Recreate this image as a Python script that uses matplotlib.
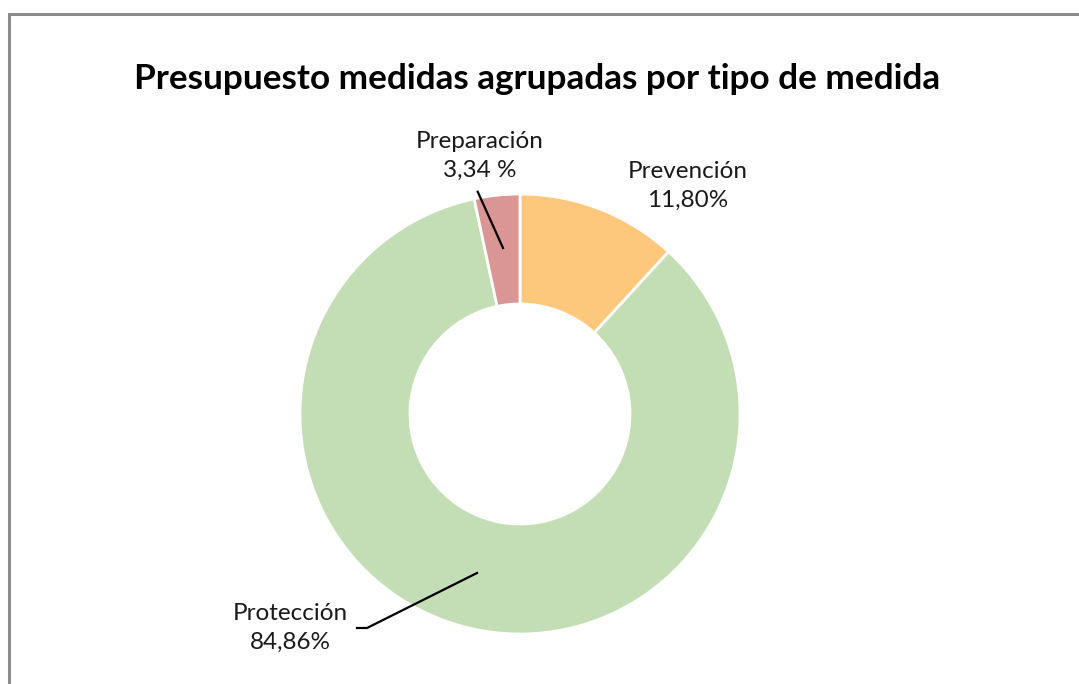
import matplotlib
matplotlib.use("Agg")
import matplotlib.pyplot as plt
from matplotlib.patches import Rectangle

# Budget share by type of measure
categories = ["Prevención", "Protección", "Preparación"]
shares = [11.80, 84.86, 3.34]
share_labels = ["11,80%", "84,86%", "3,34 %"]
colors = ["#FDC77C", "#C3DDB4", "#D99694"]

W, H = 1079, 684
fig = plt.figure(figsize=(W / 100, H / 100), dpi=100)
ax = fig.add_axes([0, 0, 1, 1])
ax.set_xlim(0, W)
ax.set_ylim(0, H)
ax.set_aspect("equal")
ax.axis("off")

# outer frame
ax.add_patch(Rectangle((9, -10), W + 20, H - 14 + 10, fill=False,
                       edgecolor="#8c8c8c", linewidth=2.2))

cx, cy, R = 520, H - 414, 220
ax.pie(shares, colors=colors, startangle=90, counterclock=False,
       radius=R, center=(cx, cy), frame=True,
       wedgeprops=dict(width=R * 0.5, edgecolor="white", linewidth=2))
ax.set_xlim(0, W)
ax.set_ylim(0, H)
ax.axis("off")

font = "Lato"
fig.text(537 / W, 1 - 79 / H, "Presupuesto medidas agrupadas por tipo de medida",
         ha="center", va="center", fontsize=25.3, fontweight="bold",
         family=font, color="black")

lab_style = dict(ha="center", va="center", fontsize=17.5, family=font,
                 color="#1a1a1a", linespacing=1.5)
ax.text(688, H - 186, f"{categories[0]}\n{share_labels[0]}", **lab_style)
ax.text(290, H - 628, f"{categories[1]}\n{share_labels[1]}", **lab_style)
ax.text(480, H - 156, f"{categories[2]}\n{share_labels[2]}", **lab_style)

# leader lines
ax.plot([477.7, 503], [H - 191.7, H - 248], color="black", lw=1.6)
ax.plot([357, 367, 477], [H - 628, H - 628, H - 573], color="black", lw=1.6)

fig.savefig("out.png", dpi=100, facecolor="white")
